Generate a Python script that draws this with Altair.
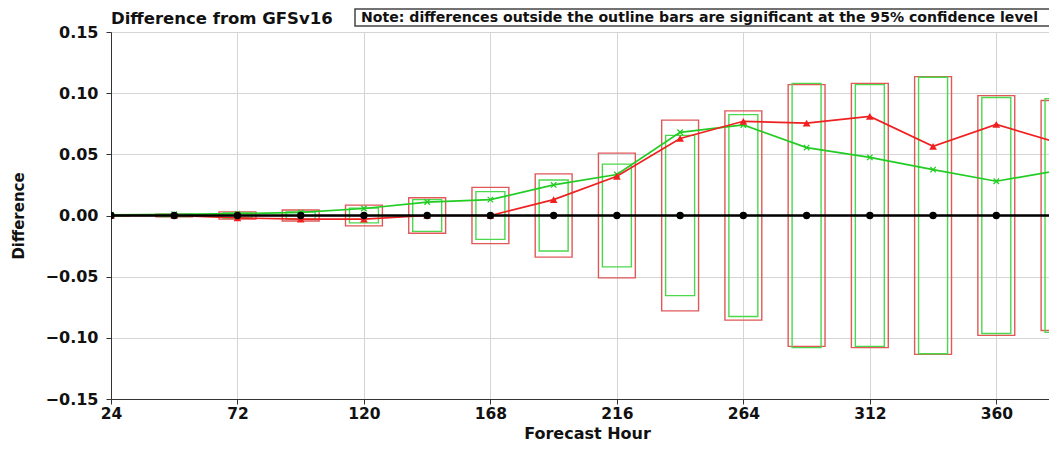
import altair as alt
import pandas as pd

hours = [24, 48, 72, 96, 120, 144, 168, 192, 216, 240, 264, 288, 312, 336, 360, 384]
ctl = [0.0] * 16
exp_red = [0.0, 0.0, -0.002, -0.003, -0.003, 0.0, 0.0, 0.013, 0.032, 0.063,
           0.077, 0.0755, 0.081, 0.0565, 0.0745, 0.059]
exp_green = [0.0005, 0.001, 0.0015, 0.0025, 0.0057, 0.011, 0.013, 0.025, 0.0335, 0.068,
             0.074, 0.0555, 0.0475, 0.0375, 0.028, 0.037]
sig_red = [0.0005, 0.001, 0.003, 0.0045, 0.0085, 0.0145, 0.023, 0.034, 0.051, 0.078,
           0.0855, 0.107, 0.108, 0.1135, 0.098, 0.094]
sig_green = [0.0004, 0.0008, 0.002, 0.003, 0.006, 0.013, 0.0195, 0.029, 0.042, 0.0655,
             0.0825, 0.108, 0.107, 0.113, 0.0965, 0.0955]
x_ticks = [24, 72, 120, 168, 216, 264, 312, 360]
y_ticks = [-0.15, -0.10, -0.05, 0.0, 0.05, 0.10, 0.15]

title_text = "Difference from GFSv16"
note_text = "Note: differences outside the outline bars are significant at the 95% confidence level"

df = pd.DataFrame({
    "hour": hours, "ctl": ctl, "red": exp_red, "green": exp_green,
    "sig_red": sig_red, "sig_green": sig_green,
})

FONT = "DejaVu Sans"
RED_LINE = "#f02020"
GREEN_LINE = "#22cc22"
RED_BAR = "#e05858"
GREEN_BAR = "#4cd84c"

W, H = 938, 367
xs = alt.Scale(domain=[24, 380], nice=False, zero=False)
ys = alt.Scale(domain=[-0.15, 0.15], nice=False)

xax = alt.Axis(values=x_ticks, title="Forecast Hour", labelFontSize=15.5, titleFontSize=16,
               labelFontWeight="bold", titleFontWeight="bold", labelColor="#111",
               titleColor="#111", labelPadding=2, tickSize=5, labelFlush=False,
               titleX=476, titleY=39, titleAlign="center", titleBaseline="alphabetic",
               gridColor="#d4d4d4", domainColor="#333", tickColor="#333", labelFont=FONT,
               titleFont=FONT)
yax = alt.Axis(values=y_ticks, format=".2f", title="Difference", labelFontSize=16,
               titleFontSize=15, labelFontWeight="bold", titleFontWeight="bold",
               labelColor="#111", titleColor="#111", labelPadding=8,
               titleX=-93, titleY=H / 2, titleBaseline="middle", titleAlign="center",
               tickSize=5, gridColor="#d4d4d4", domainColor="#333", tickColor="#333",
               labelFont=FONT, titleFont=FONT)

base = alt.Chart(df)

X = alt.X("hour:Q", scale=xs, axis=xax)
Y = alt.Y("ctl:Q", scale=ys, axis=yax)

red_bars = base.transform_calculate(
    x1="datum.hour - 7", x2="datum.hour + 7", lo="-datum.sig_red"
).mark_rect(fill=None, filled=False, stroke=RED_BAR, strokeWidth=1.4, clip=True).encode(
    x=alt.X("x1:Q", scale=xs, axis=xax), x2="x2:Q",
    y=alt.Y("lo:Q", scale=ys, axis=yax), y2="sig_red:Q",
)
green_bars = base.transform_calculate(
    x1="datum.hour - 5.5", x2="datum.hour + 5.5", lo="-datum.sig_green"
).mark_rect(fill=None, filled=False, stroke=GREEN_BAR, strokeWidth=1.4, clip=True).encode(
    x=alt.X("x1:Q", scale=xs, axis=xax), x2="x2:Q",
    y=alt.Y("lo:Q", scale=ys, axis=yax), y2="sig_green:Q",
)

green_line = base.mark_line(color=GREEN_LINE, strokeWidth=1.7, clip=True).encode(
    x=X, y=alt.Y("green:Q", scale=ys, axis=yax))
green_pts = base.mark_point(shape="M-1,-1L1,1M1,-1L-1,1", filled=False, color=GREEN_LINE,
                            size=30, strokeWidth=1.3, opacity=1, clip=True).encode(
    x=X, y=alt.Y("green:Q", scale=ys, axis=yax))
red_line = base.mark_line(color=RED_LINE, strokeWidth=1.7, clip=True).encode(
    x=X, y=alt.Y("red:Q", scale=ys, axis=yax))
red_pts = base.mark_point(shape="triangle-up", filled=True, color=RED_LINE, size=60,
                          opacity=1, clip=True).encode(
    x=X, y=alt.Y("red:Q", scale=ys, axis=yax))
ctl_line = base.mark_line(color="#000", strokeWidth=2.3, clip=True).encode(x=X, y=Y)
ctl_pts = base.mark_point(shape="circle", filled=True, color="#000", size=55, opacity=1,
                          clip=True).encode(x=X, y=Y)

note_df = pd.DataFrame({"note": [note_text], "title": [title_text]})
title_mark = alt.Chart(note_df).mark_text(align="left", baseline="alphabetic", font=FONT,
                                          fontWeight="bold", fontSize=16.5, color="#111").encode(
    x=alt.value(0), y=alt.value(-8), text="title:N")
note_box = alt.Chart(note_df).mark_rect(fill="white", stroke="#444", strokeWidth=1.5).encode(
    x=alt.value(244), x2=alt.value(990), y=alt.value(-23), y2=alt.value(-6))
note_txt = alt.Chart(note_df).mark_text(align="left", baseline="middle", font=FONT,
                                        fontWeight="bold", fontSize=14.1, color="#111").encode(
    x=alt.value(250), y=alt.value(-14.5), text="note:N")

chart = alt.layer(
    red_bars, green_bars, green_line, green_pts, red_line, red_pts, ctl_line, ctl_pts,
    title_mark, note_box, note_txt,
).properties(
    width=W, height=H,
    autosize=alt.AutoSizeParams(type="none"),
    padding={"left": 103, "top": 24, "right": 0, "bottom": 43},
).configure_view(stroke="#333", strokeWidth=1).configure(background="white")

chart.save("out.html", embed_options={"renderer": "svg", "actions": False})
